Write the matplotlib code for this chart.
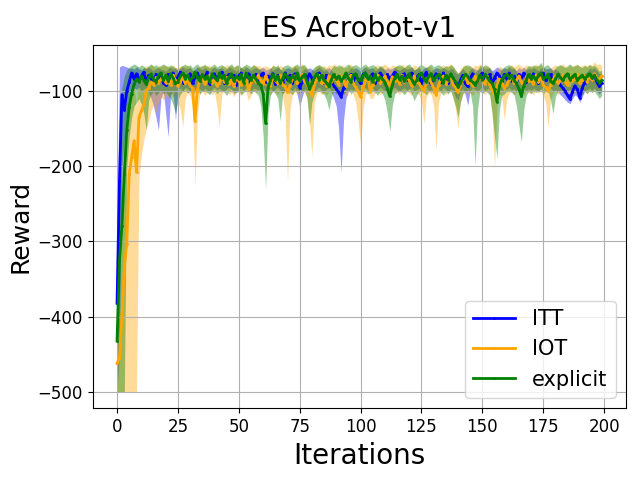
import numpy as np
import matplotlib
matplotlib.use("Agg")
import matplotlib.pyplot as plt

iterations = list(range(200))

itt_mean = [
 -382, -220, -105, -125, -100, -88, -76, -84, -77, -86, -80, -75, -88, -79, -83, -91, -78, -85, -77, -89,
 -92, -78, -84, -76, -87, -81, -75, -89, -80, -84, -77, -90, -82, -76, -86, -79, -83, -75, -91, -80,
 -77, -86, -81, -75, -89, -82, -78, -85, -79, -92, -80, -76, -87, -81, -77, -90, -83, -78, -86, -79,
 -76, -88, -80, -84, -77, -91, -79, -83, -88, -76, -85, -79, -90, -77, -84, -96, -88, -79, -85, -77,
 -83, -89, -78, -76, -86, -90, -79, -82, -87, -93, -97, -102, -108, -96, -92, -84, -78, -87, -80, -84,
 -90, -78, -76, -85, -81, -77, -89, -83, -76, -80, -88, -78, -84, -80, -75, -86, -90, -79, -77, -85,
 -81, -76, -88, -82, -78, -90, -80, -75, -85, -91, -83, -77, -80, -88, -76, -84, -89, -79, -85, -92,
 -96, -86, -79, -90, -94, -84, -77, -83, -88, -80, -76, -86, -81, -78, -90, -83, -76, -80, -88, -78,
 -84, -76, -87, -80, -89, -78, -83, -76, -88, -81, -85, -77, -82, -90, -79, -76, -86, -80, -78, -88,
 -82, -88, -92, -96, -100, -106, -111, -101, -93, -98, -109, -96, -89, -85, -79, -86, -78, -88, -94, -90]
itt_lo = [
 -500, -450, -200, -165, -130, -112, -100, -96, -98, -95, -100, -97, -96, -102, -110, -120, -135, -152, -110, -100,
 -130, -161, -105, -100, -139, -98, -96, -100, -95, -97, -100, -96, -98, -95, -97, -100, -96, -99, -102, -97,
 -95, -98, -96, -99, -100, -97, -95, -98, -100, -103, -97, -96, -99, -95, -98, -101, -96, -97, -99, -96,
 -95, -100, -97, -96, -101, -97, -95, -99, -103, -98, -96, -97, -100, -95, -105, -121, -108, -97, -99, -96,
 -98, -101, -97, -95, -99, -102, -97, -96, -100, -110, -120, -150, -209, -139, -110, -100, -97, -99, -96, -98,
 -102, -97, -95, -99, -97, -96, -101, -98, -95, -97, -100, -96, -99, -97, -95, -98, -101, -97, -96, -99,
 -97, -95, -100, -98, -96, -101, -97, -95, -99, -102, -98, -96, -97, -100, -95, -98, -101, -97, -99, -108,
 -112, -100, -97, -105, -119, -99, -96, -98, -100, -97, -95, -99, -97, -96, -101, -98, -95, -97, -100, -96,
 -98, -95, -99, -97, -101, -96, -98, -95, -100, -97, -99, -96, -98, -101, -97, -95, -99, -97, -96, -100,
 -98, -101, -105, -108, -112, -115, -117, -110, -105, -108, -115, -108, -100, -98, -96, -99, -96, -100, -104, -100]
itt_hi = [
 -270, -68, -66, -67, -68, -70, -69, -71, -68, -70, -72, -69, -70, -68, -71, -73, -70, -69, -71, -72,
 -74, -70, -68, -71, -69, -72, -70, -68, -71, -70, -69, -73, -71, -68, -70, -72, -69, -71, -74, -70,
 -68, -71, -70, -69, -73, -71, -68, -70, -72, -74, -70, -69, -71, -68, -70, -73, -70, -69, -71, -70,
 -68, -72, -71, -69, -73, -70, -68, -71, -74, -71, -69, -70, -72, -68, -71, -78, -74, -70, -71, -69,
 -71, -73, -70, -68, -71, -74, -70, -69, -72, -76, -80, -85, -90, -82, -78, -73, -70, -71, -69, -71,
 -74, -70, -68, -71, -70, -69, -73, -71, -68, -70, -72, -69, -71, -70, -68, -71, -73, -70, -69, -71,
 -70, -68, -72, -71, -69, -73, -70, -68, -71, -74, -71, -69, -70, -72, -68, -71, -73, -70, -71, -76,
 -78, -73, -70, -74, -77, -71, -69, -71, -72, -70, -68, -71, -70, -69, -73, -71, -68, -70, -72, -69,
 -71, -68, -71, -70, -73, -69, -71, -68, -72, -70, -71, -69, -71, -73, -70, -68, -71, -70, -69, -72,
 -71, -73, -76, -79, -84, -90, -94, -86, -80, -83, -92, -82, -77, -74, -70, -71, -69, -73, -77, -76]

iot_mean = [
 -462, -455, -400, -334, -303, -210, -188, -166, -208, -135, -126, -118, -100, -96, -88, -92, -82, -90, -84, -80,
 -89, -83, -92, -79, -86, -94, -88, -81, -90, -84, -93, -96, -140, -98, -85, -80, -91, -86, -79, -90,
 -84, -93, -90, -80, -88, -82, -91, -85, -94, -81, -87, -92, -80, -86, -98, -90, -82, -88, -79, -86,
 -91, -80, -87, -93, -81, -86, -90, -79, -92, -94, -102, -93, -84, -80, -90, -86, -78, -88, -91, -98,
 -106, -92, -84, -79, -90, -86, -93, -80, -88, -82, -85, -92, -80, -87, -94, -84, -79, -90, -95, -100,
 -108, -96, -86, -82, -101, -92, -84, -79, -90, -86, -80, -88, -93, -81, -87, -84, -91, -79, -88, -82,
 -86, -93, -80, -88, -90, -95, -100, -90, -82, -89, -96, -105, -92, -84, -80, -91, -86, -79, -92, -95,
 -102, -92, -84, -79, -90, -86, -93, -80, -88, -82, -85, -91, -80, -92, -98, -106, -94, -84, -90, -96,
 -92, -85, -79, -90, -86, -80, -88, -93, -81, -87, -84, -91, -79, -88, -82, -92, -95, -100, -92, -85,
 -80, -90, -86, -79, -88, -92, -81, -87, -84, -78, -90, -85, -80, -88, -79, -86, -77, -83, -85, -80]
iot_lo = [
 -500, -500, -500, -500, -500, -500, -500, -500, -500, -215, -185, -165, -150, -140, -125, -118, -130, -115, -108, -112,
 -105, -110, -102, -108, -100, -115, -125, -148, -110, -102, -106, -120, -228, -130, -104, -100, -106, -102, -99, -105,
 -102, -120, -148, -104, -100, -98, -105, -102, -108, -100, -103, -106, -99, -102, -113, -105, -100, -103, -98, -102,
 -105, -100, -103, -106, -99, -102, -105, -100, -108, -130, -221, -125, -104, -100, -105, -102, -99, -103, -108, -140,
 -188, -115, -103, -100, -105, -102, -106, -100, -103, -99, -102, -106, -100, -103, -108, -102, -99, -105, -115, -140,
 -172, -125, -105, -102, -110, -110, -103, -100, -105, -102, -99, -103, -106, -100, -103, -102, -105, -99, -103, -100,
 -103, -106, -100, -103, -105, -115, -143, -108, -102, -105, -120, -178, -115, -103, -100, -105, -102, -99, -108, -125,
 -151, -115, -103, -100, -105, -102, -106, -100, -103, -99, -102, -105, -100, -106, -130, -203, -120, -103, -108, -138,
 -112, -103, -100, -105, -102, -99, -103, -106, -100, -103, -102, -105, -99, -103, -100, -106, -115, -148, -112, -103,
 -100, -105, -102, -99, -103, -106, -100, -103, -102, -99, -105, -102, -100, -103, -99, -102, -98, -101, -100, -98]
iot_hi = [
 -430, -420, -250, -200, -150, -120, -100, -95, -120, -80, -75, -70, -66, -68, -65, -67, -70, -66, -68, -65,
 -67, -66, -69, -65, -68, -70, -67, -66, -68, -65, -69, -72, -85, -70, -66, -68, -65, -67, -66, -69,
 -67, -70, -72, -66, -68, -65, -67, -66, -69, -65, -68, -70, -66, -67, -72, -68, -65, -67, -66, -68,
 -69, -66, -68, -70, -65, -67, -69, -66, -68, -70, -76, -72, -67, -65, -68, -66, -64, -67, -69, -74,
 -78, -70, -67, -65, -68, -66, -69, -65, -67, -64, -66, -69, -65, -67, -70, -66, -64, -68, -72, -76,
 -80, -73, -68, -66, -75, -70, -67, -65, -68, -66, -64, -67, -69, -65, -67, -66, -68, -64, -67, -65,
 -67, -69, -65, -67, -68, -72, -76, -69, -66, -68, -73, -80, -71, -67, -65, -68, -66, -64, -68, -72,
 -77, -70, -67, -65, -68, -66, -69, -65, -67, -64, -66, -68, -65, -69, -75, -80, -72, -67, -69, -74,
 -70, -67, -65, -68, -66, -64, -67, -69, -65, -67, -66, -68, -64, -67, -65, -69, -72, -76, -70, -67,
 -65, -68, -66, -64, -67, -69, -65, -67, -66, -64, -68, -66, -65, -67, -64, -66, -61, -65, -64, -66]

exp_mean = [
 -432, -325, -280, -210, -152, -121, -104, -91, -84, -88, -80, -86, -91, -82, -77, -85, -88, -79, -76, -86,
 -79, -87, -77, -83, -90, -88, -80, -76, -84, -79, -86, -82, -75, -81, -87, -78, -84, -80, -88, -77,
 -82, -86, -76, -83, -79, -90, -81, -77, -87, -80, -84, -78, -89, -76, -82, -86, -79, -84, -90, -92,
 -104, -143, -96, -86, -78, -85, -80, -90, -83, -77, -82, -88, -79, -84, -76, -87, -81, -78, -88, -97,
 -90, -82, -77, -85, -79, -86, -89, -94, -85, -78, -84, -80, -87, -82, -76, -83, -88, -79, -77, -85,
 -86, -79, -76, -84, -80, -88, -78, -86, -81, -84, -89, -97, -107, -92, -83, -78, -85, -80, -87, -82,
 -77, -85, -91, -86, -79, -76, -84, -88, -80, -77, -86, -81, -78, -84, -89, -79, -85, -77, -83, -88,
 -95, -90, -83, -78, -81, -86, -88, -92, -87, -79, -85, -78, -82, -87, -90, -98, -114, -93, -85, -80,
 -78, -83, -79, -86, -90, -97, -107, -93, -85, -78, -84, -80, -86, -79, -76, -84, -81, -78, -87, -90,
 -84, -78, -82, -86, -80, -77, -85, -81, -78, -86, -82, -79, -84, -80, -77, -83, -79, -85, -89, -86]
exp_lo = [
 -500, -500, -500, -500, -200, -160, -135, -120, -115, -110, -118, -130, -152, -112, -104, -100, -106, -102, -99, -104,
 -101, -106, -110, -118, -130, -112, -104, -100, -98, -103, -100, -105, -101, -98, -104, -100, -99, -102, -105, -100,
 -98, -104, -100, -99, -102, -106, -100, -98, -104, -100, -99, -105, -102, -98, -100, -104, -99, -102, -106, -120,
 -160, -231, -130, -105, -100, -104, -110, -140, -104, -100, -99, -102, -105, -100, -98, -104, -100, -99, -110, -145,
 -115, -104, -100, -99, -102, -105, -112, -125, -108, -100, -104, -99, -102, -105, -100, -98, -104, -100, -99, -102,
 -105, -100, -98, -104, -100, -99, -102, -106, -100, -104, -112, -130, -154, -120, -104, -100, -99, -102, -105, -100,
 -98, -104, -113, -106, -100, -99, -102, -105, -100, -98, -104, -100, -99, -102, -106, -100, -104, -99, -110, -120,
 -135, -115, -104, -100, -99, -102, -120, -199, -125, -100, -104, -99, -102, -105, -130, -160, -190, -125, -106, -104,
 -100, -99, -102, -105, -120, -145, -168, -125, -106, -100, -104, -99, -102, -100, -98, -104, -100, -99, -112, -130,
 -108, -100, -99, -102, -105, -100, -98, -104, -100, -99, -102, -105, -100, -104, -99, -102, -100, -105, -110, -106]
exp_hi = [
 -330, -120, -95, -80, -72, -68, -66, -64, -66, -68, -65, -67, -70, -66, -64, -67, -65, -68, -66, -64,
 -66, -68, -65, -67, -70, -72, -68, -66, -64, -67, -65, -69, -66, -64, -68, -66, -65, -67, -69, -66,
 -64, -68, -66, -65, -67, -70, -66, -64, -68, -66, -65, -69, -67, -64, -66, -68, -65, -67, -70, -72,
 -80, -95, -78, -70, -66, -68, -65, -72, -68, -66, -65, -67, -69, -66, -64, -68, -66, -65, -70, -78,
 -72, -68, -66, -65, -67, -69, -72, -76, -70, -66, -68, -65, -67, -69, -66, -64, -68, -66, -65, -67,
 -69, -66, -64, -68, -66, -65, -67, -70, -66, -68, -72, -78, -86, -75, -68, -66, -65, -67, -69, -66,
 -64, -68, -72, -70, -66, -65, -67, -69, -66, -64, -68, -66, -65, -67, -70, -66, -68, -65, -67, -72,
 -76, -74, -68, -66, -65, -67, -70, -76, -72, -66, -68, -65, -67, -69, -74, -80, -90, -76, -70, -68,
 -66, -65, -67, -69, -74, -80, -88, -76, -70, -66, -68, -65, -67, -66, -62, -68, -66, -65, -70, -74,
 -69, -66, -65, -67, -69, -66, -64, -68, -66, -65, -67, -69, -66, -68, -65, -67, -66, -69, -74, -72]

series = [
    ("ITT", "blue", itt_mean, itt_lo, itt_hi),
    ("IOT", "orange", iot_mean, iot_lo, iot_hi),
    ("explicit", "green", exp_mean, exp_lo, exp_hi),
]

fig, ax = plt.subplots(figsize=(6.4, 4.8), dpi=100)
x = np.array(iterations)
for name, color, m, lo, hi in series:
    ax.plot(x, m, color=color, marker='.', markersize=2, linewidth=2, label=name)
    ax.fill_between(x, lo, hi, color=color, alpha=0.4, linewidth=0)

ax.set_title("ES Acrobot-v1", fontsize=20)
ax.set_xlabel("Iterations", fontsize=20)
ax.set_ylabel("Reward", fontsize=18)
ax.tick_params(labelsize=12)
ax.grid(True)
ax.legend(loc="lower right", fontsize=15)
fig.subplots_adjust(left=0.145, right=0.978, top=0.906, bottom=0.149)
fig.savefig("out.png", dpi=100)
